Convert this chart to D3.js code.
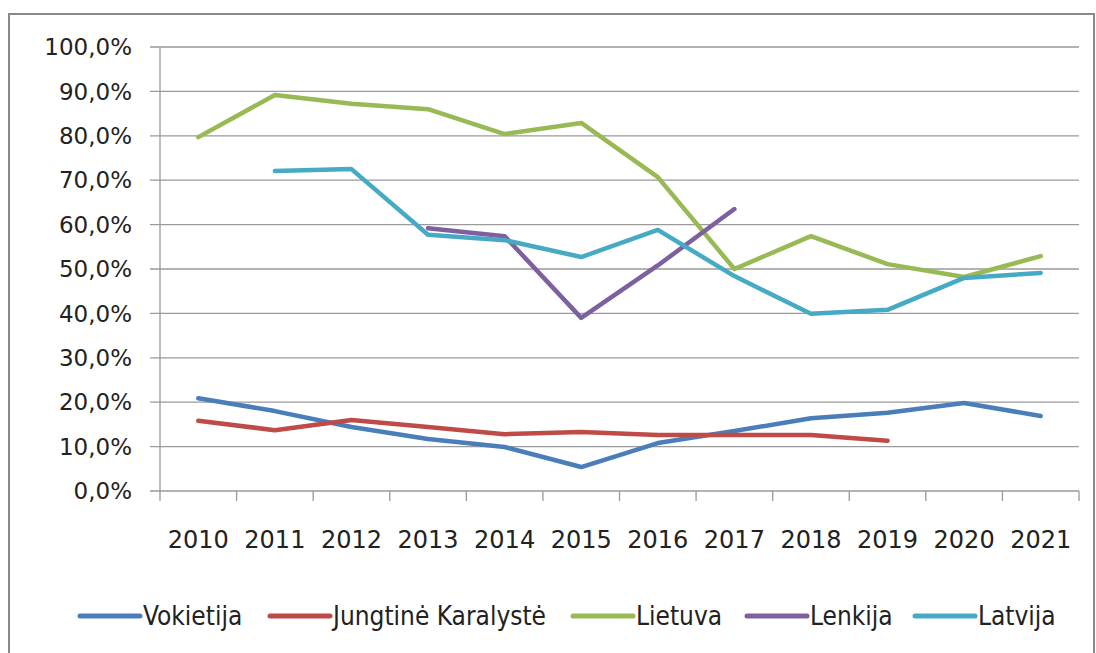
<!DOCTYPE html>
<html>
<head>
<meta charset="utf-8">
<title>Chart</title>
<script src="https://d3js.org/d3.v7.min.js"></script>
<style>
  body { margin: 0; background: #fff; }
</style>
</head>
<body>
<svg width="1096" height="653"></svg>
<script>
// data
var years = ["2010","2011","2012","2013","2014","2015","2016","2017","2018","2019","2020","2021"];
var yTicks = [0,10,20,30,40,50,60,70,80,90,100];

var vokietija = [20.9, 18.0, 14.4, 11.7, 9.9, 5.4, 10.8, 13.5, 16.4, 17.6, 19.8, 16.9];
var jungtine  = [15.8, 13.7, 16.0, 14.4, 12.8, 13.3, 12.6, 12.6, 12.6, 11.3, null, null];
var lietuva   = [79.7, 89.2, 87.2, 86.0, 80.4, 82.9, 70.7, 50.0, 57.4, 51.1, 48.2, 52.9];
var lenkija   = [null, null, null, 59.2, 57.4, 39.0, 50.8, 63.5, null, null, null, null];
var latvija   = [null, 72.1, 72.5, 57.7, 56.5, 52.7, 58.8, 48.4, 39.9, 40.8, 48.0, 49.1];

var series = [
  {name: "Vokietija", values: vokietija, color: "#4a7ebb"},
  {name: "Jungtinė Karalystė", values: jungtine, color: "#be4b48"},
  {name: "Lietuva", values: lietuva, color: "#98b954"},
  {name: "Lenkija", values: lenkija, color: "#7d60a0"},
  {name: "Latvija", values: latvija, color: "#46aac5"}
];

var svg = d3.select("svg");

// outer frame
svg.append("rect")
  .attr("x", 9).attr("y", 14)
  .attr("width", 1085).attr("height", 660)
  .style("fill", "none")
  .style("stroke", "#8a8a8a")
  .style("stroke-width", 2);

var pLeft = 160, pRight = 1079, pTop = 47, pBottom = 491;

var x = d3.scaleBand().domain(years).range([pLeft, pRight]);
var y = d3.scaleLinear().domain([0, 100]).range([pBottom, pTop]);

// gridlines
svg.append("g").selectAll("line")
  .data(yTicks)
  .join("line")
  .attr("x1", pLeft - 10).attr("x2", pRight)
  .attr("y1", d => y(d)).attr("y2", d => y(d))
  .style("stroke", "#9a9a9a")
  .style("stroke-width", 1.3);

// y axis line
svg.append("line")
  .attr("x1", pLeft).attr("x2", pLeft)
  .attr("y1", pTop).attr("y2", pBottom)
  .style("stroke", "#9a9a9a").style("stroke-width", 1.3);

// x ticks
var xt = years.map(d => x(d)).concat([pRight]);
svg.append("g").selectAll("line")
  .data(xt)
  .join("line")
  .attr("x1", d => d).attr("x2", d => d)
  .attr("y1", pBottom).attr("y2", pBottom + 10)
  .style("stroke", "#9a9a9a").style("stroke-width", 1.3);

// y labels
svg.append("g").selectAll("text")
  .data(yTicks)
  .join("text")
  .attr("x", 132)
  .attr("y", d => y(d))
  .attr("dy", "0.36em")
  .attr("text-anchor", "end")
  .style("font-family", "DejaVu Sans")
  .style("font-size", "23px")
  .style("fill", "#222")
  .text(d => d3.format(".1f")(d).replace(".", ",") + "%");

// x labels
svg.append("g").selectAll("text")
  .data(years)
  .join("text")
  .attr("x", d => x(d) + x.bandwidth() / 2)
  .attr("y", 548)
  .attr("text-anchor", "middle")
  .style("font-family", "DejaVu Sans")
  .style("font-size", "24px")
  .style("fill", "#222")
  .text(d => d);

// lines
var line = d3.line()
  .defined(d => d.v != null)
  .x(d => x(d.year) + x.bandwidth() / 2)
  .y(d => y(d.v));

series.forEach(s => {
  var pts = years.map((yr, i) => ({year: yr, v: s.values[i]}));
  svg.append("path")
    .attr("d", line(pts))
    .style("fill", "none")
    .style("stroke", s.color)
    .style("stroke-width", 4.5)
    .style("stroke-linejoin", "round")
    .style("stroke-linecap", "round");
});

// legend
var legendX = [80, 270, 573, 747, 915];
var lg = svg.append("g");
series.forEach((s, i) => {
  lg.append("line")
    .attr("x1", legendX[i]).attr("x2", legendX[i] + 60)
    .attr("y1", 616).attr("y2", 616)
    .style("stroke", s.color)
    .style("stroke-width", 5)
    .style("stroke-linecap", "round");
  lg.append("text")
    .attr("x", legendX[i] + 63)
    .attr("y", 616)
    .attr("dy", "0.36em")
    .style("font-family", "DejaVu Sans Condensed, DejaVu Sans")
    .style("font-stretch", "condensed")
    .style("font-size", "26px")
    .style("fill", "#222")
    .text(s.name);
});
</script>
</body>
</html>
